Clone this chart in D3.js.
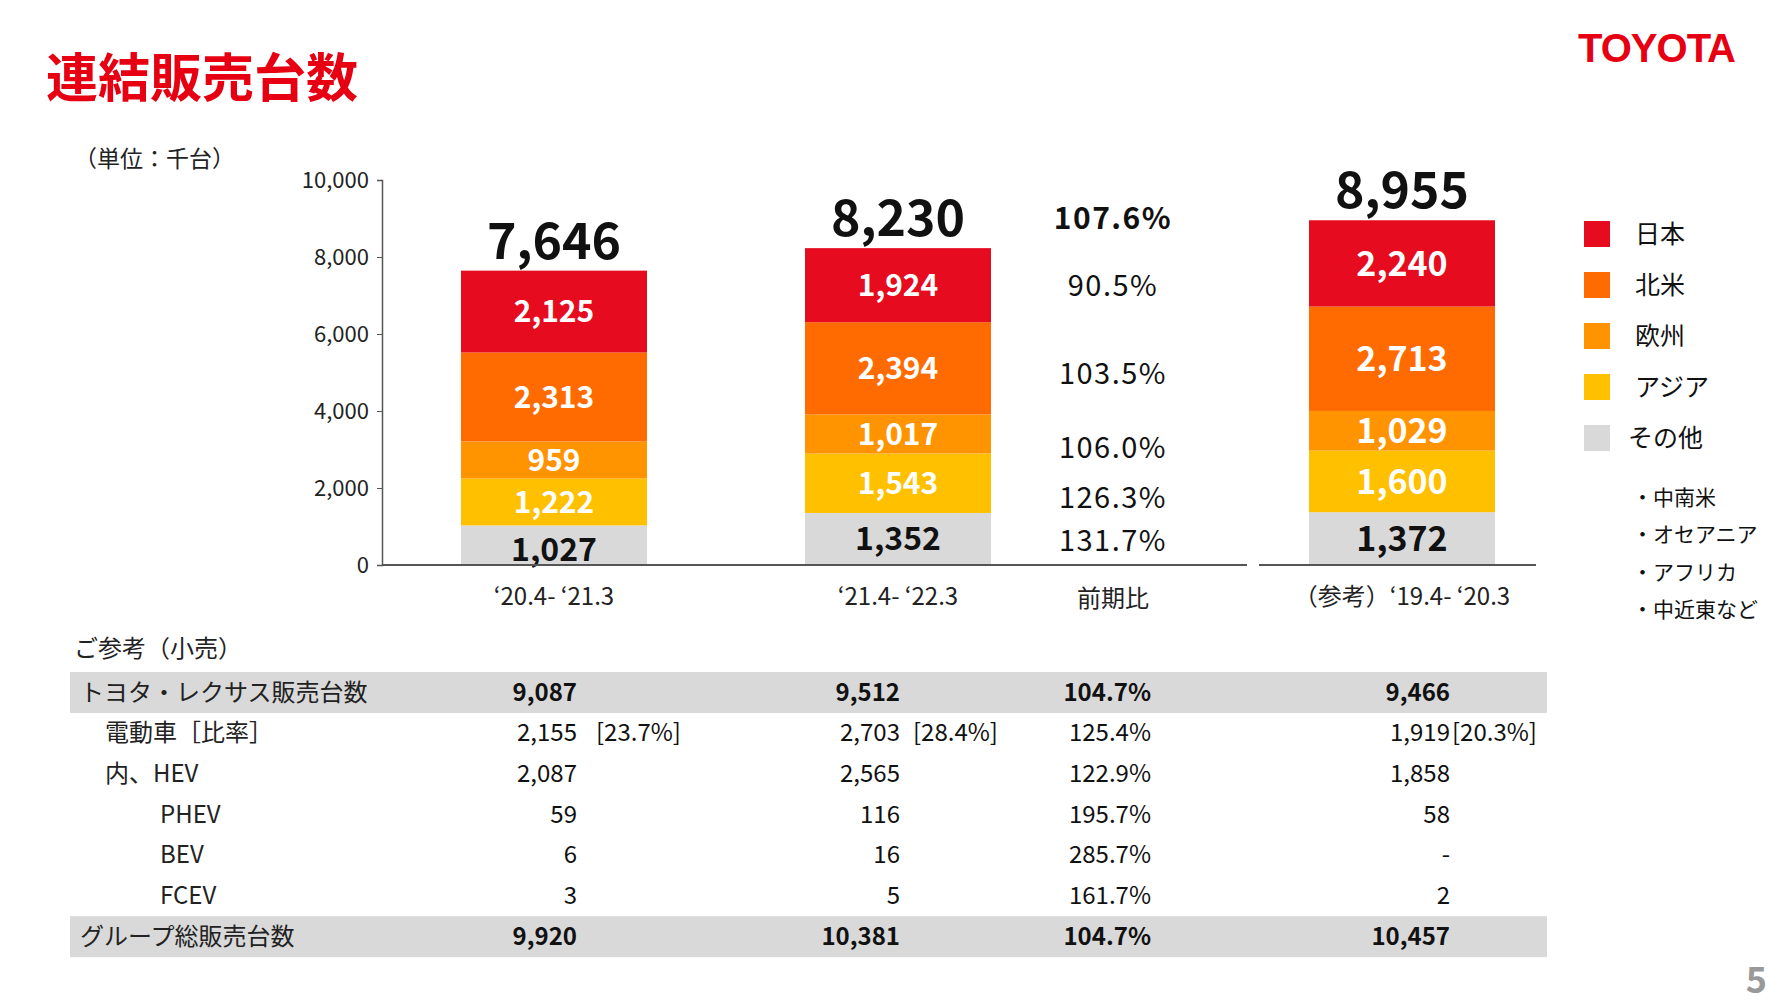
<!DOCTYPE html>
<html><head><meta charset="utf-8">
<script src="https://cdn.jsdelivr.net/npm/d3@7"></script>
<style>body{margin:0;background:#fff}svg{display:block;font-family:"Noto Sans CJK JP","Noto Sans",sans-serif}</style>
</head><body><svg id="c" width="1781" height="1002"></svg>
<script>
const categories = ["‘20.4- ‘21.3", "‘21.4- ‘22.3", "（参考）‘19.4- ‘20.3"];
const regions = ["その他", "アジア", "欧州", "北米", "日本"];
const japan = [2125, 1924, 2240];
const northAmerica = [2313, 2394, 2713];
const europe = [959, 1017, 1029];
const asia = [1222, 1543, 1600];
const others = [1027, 1352, 1372];
const totals = [7646, 8230, 8955];
const yoy = ["107.6%", "90.5%", "103.5%", "106.0%", "126.3%", "131.7%"];
const yTicks = [0, 2000, 4000, 6000, 8000, 10000];
const legendOrder = ["日本", "北米", "欧州", "アジア", "その他"];
const othersNote = ["・中南米", "・オセアニア", "・アフリカ", "・中近東など"];
const tableRows = [
  {label:"トヨタ・レクサス販売台数", indent:0, bold:true, shade:true, v:["9,087","9,512","104.7%","9,466"], r:["","",""]},
  {label:"電動車［比率］", indent:1, v:["2,155","2,703","125.4%","1,919"], r:["[23.7%]","[28.4%]","[20.3%]"]},
  {label:"内、HEV", indent:1, v:["2,087","2,565","122.9%","1,858"], r:["","",""]},
  {label:"PHEV", indent:2, v:["59","116","195.7%","58"], r:["","",""]},
  {label:"BEV", indent:2, v:["6","16","285.7%","-"], r:["","",""]},
  {label:"FCEV", indent:2, v:["3","5","161.7%","2"], r:["","",""]},
  {label:"グループ総販売台数", indent:0, bold:true, shade:true, v:["9,920","10,381","104.7%","10,457"], r:["","",""]}
];
const colors = {"日本":"#E60B1F","北米":"#FF6B00","欧州":"#FF9300","アジア":"#FFC000","その他":"#D9D9D9"};
const seriesVals = {"日本":japan,"北米":northAmerica,"欧州":europe,"アジア":asia,"その他":others};

const svg = d3.select("#c");
svg.append("text").attr("x",46).attr("y",97).attr("fill","#E60012").attr("font-size",52).attr("font-weight",700).text("連結販売台数");
svg.append("text").attr("x",1735).attr("y",62).attr("text-anchor","end").attr("fill","#E60012").attr("font-size",40).attr("font-weight",900).attr("font-family","Liberation Sans, Arial").attr("letter-spacing",-1).text("TOYOTA");
svg.append("text").attr("x",74).attr("y",167).attr("font-size",23).attr("fill","#222").text("（単位：千台）");

const y = d3.scaleLinear().domain([0,10000]).range([565,180]);
const x = d3.scaleOrdinal().domain(categories).range([554, 898, 1402]);
const bw = 186;

const ax = svg.append("g").attr("transform","translate(382,0)").call(d3.axisLeft(y).tickValues(yTicks).tickFormat(d3.format(",")).tickSize(5).tickPadding(8));
ax.select(".domain").attr("stroke","#555").attr("stroke-width",1.5);
ax.selectAll(".tick line").attr("stroke","#555");
ax.selectAll("text").attr("font-size",22).attr("fill","#222").attr("font-family","Noto Sans CJK JP");

const stack = d3.stack().keys(regions)(categories.map((c,i)=>{const o={c};regions.forEach(r=>o[r]=seriesVals[r][i]);return o;}));
stack.forEach(layer=>{
  const g = svg.append("g");
  layer.forEach((d,i)=>{
    const cx = x(categories[i]);
    g.append("rect").attr("x",cx-bw/2).attr("width",bw).attr("y",y(d[1])).attr("height",y(d[0])-y(d[1])).attr("fill",colors[layer.key]);
    const off = (i===0 && layer.key==="その他") ? 4 : 0;
    g.append("text").attr("x",cx).attr("y",(y(d[0])+y(d[1]))/2+off).attr("dy","0.36em").attr("text-anchor","middle")
      .attr("font-size",i===2?34:(layer.key==="その他"?32:30)).attr("font-weight",700).attr("fill",layer.key==="その他"?"#111":"#fff")
      .text(d3.format(",")(d.data[layer.key]));
  });
});
svg.append("line").attr("x1",382).attr("x2",1247).attr("y1",y(0)).attr("y2",y(0)).attr("stroke","#555").attr("stroke-width",2);
svg.append("line").attr("x1",1259).attr("x2",1536).attr("y1",y(0)).attr("y2",y(0)).attr("stroke","#555").attr("stroke-width",2);
totals.forEach((t,i)=>svg.append("text").attr("x",x(categories[i])).attr("y",y(t)-12).attr("text-anchor","middle").attr("font-size",50).attr("font-weight",700).attr("fill","#111").text(d3.format(",")(t)));
const bar2 = stack.map(l=>l[1]);
const yoyY = [y(totals[1])-30].concat([4,3,2,1,0].map(k=>(y(bar2[k][0])+y(bar2[k][1]))/2));
yoyY[2] += 5; yoyY[3] += 14; yoyY[4] += 14; yoyY[5] += 2;
yoy.forEach((t,i)=>svg.append("text").attr("x",1113).attr("y",yoyY[i]).attr("dy","0.36em").attr("text-anchor","middle").attr("font-size",i===0?30:29).attr("font-weight",i===0?700:400).attr("fill","#111").attr("letter-spacing",1.5).text(t));
categories.forEach((c,i)=>svg.append("text").attr("x",x(c)).attr("y",605).attr("text-anchor","middle").attr("font-size",24).attr("fill","#222").text(c));
svg.append("text").attr("x",1113).attr("y",607).attr("text-anchor","middle").attr("font-size",24).attr("fill","#222").text("前期比");
legendOrder.forEach((k,i)=>{
  const ly = 234 + i*51;
  svg.append("rect").attr("x",1584).attr("y",ly-13).attr("width",26).attr("height",26).attr("fill",colors[k]);
  svg.append("text").attr("x",k==="その他"?1628:1635).attr("y",ly).attr("dy","0.36em").attr("font-size",25).attr("fill","#111").text(k);
});
othersNote.forEach((t,i)=>svg.append("text").attr("x",1632).attr("y",497+i*37.5).attr("dy","0.36em").attr("font-size",21).attr("fill","#111").text(t));
svg.append("text").attr("x",74).attr("y",657).attr("font-size",24).attr("fill","#222").text("ご参考（小売）");
const colX = [577, 900, 1151, 1450];
const brX = [596, 913, 1452];
tableRows.forEach((r,i)=>{
  const ry = 692 + i*40.7;
  if(r.shade) svg.append("rect").attr("x",70).attr("y",ry-20).attr("width",1477).attr("height",41).attr("fill","#D9D9D9");
  svg.append("text").attr("x",[80,105,160][r.indent]).attr("y",ry).attr("dy","0.36em").attr("font-size",24).attr("fill","#222").text(r.label);
  r.v.forEach((v,j)=>svg.append("text").attr("x",colX[j]).attr("y",ry).attr("dy","0.36em").attr("text-anchor","end").attr("font-size",24).attr("font-weight",r.bold?700:400).attr("fill","#111").text(v));
  r.r.forEach((v,j)=>{ if(v) svg.append("text").attr("x",brX[j]).attr("y",ry).attr("dy","0.36em").attr("font-size",24).attr("fill","#111").text(v);});
});
svg.append("text").attr("x",1767).attr("y",993).attr("text-anchor","end").attr("font-size",36).attr("font-weight",700).attr("fill","#999").text("5");
</script></body></html>
